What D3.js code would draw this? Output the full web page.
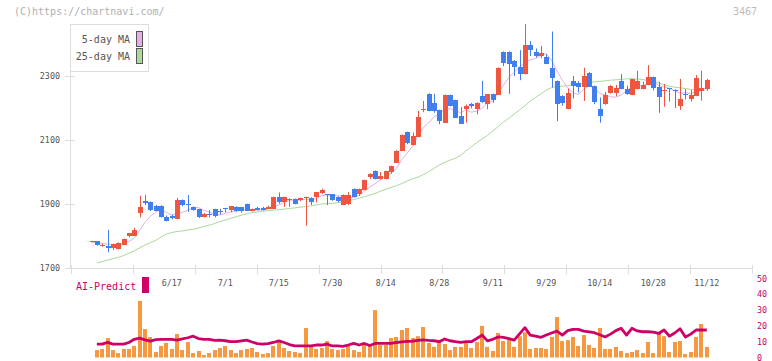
<!DOCTYPE html>
<html><head><meta charset="utf-8">
<script src="https://cdn.jsdelivr.net/npm/d3@7"></script>
<style>
body{margin:0;background:#fff;}
svg{display:block;}
text{font-family:"DejaVu Sans Mono","Liberation Mono",monospace;}
</style>
</head><body>
<svg id="chart" width="772" height="361"></svg>
<script>
const opens = [1783,1783,1770,1769,1761,1760,1773,1798,1801,1873,
1910,1906,1895,1894,1860,1862,1854,1912,1899,1890,
1883,1860,1870,1883,1878,1886,1881,1891,1890,1900,
1880,1887,1887,1885,1885,1923,1906,1912,1916,1912,
1917,1920,1921,1935,1931,1930,1923,1898,1900,1947,
1930,1944,1984,2003,1978,1978,2000,2031,2067,2125,
2084,2110,2194,2244,2217,2194,2154,2241,2225,2176,
2197,2211,2197,2237,2212,2243,2243,2376,2376,2347,
2329,2306,2397,2376,2362,2360,2326,2284,2238,2198,
2284,2277,2267,2310,2269,2198,2212,2247,2247,2284,
2259,2241,2259,2259,2272,2297,2265,2254,2261,2257,
2207,2245,2230,2238,2254,2259];
const highs = [1785,1784,1776,1819,1776,1780,1792,1810,1826,1926,
1928,1908,1897,1896,1864,1867,1919,1914,1928,1892,
1885,1872,1881,1885,1885,1887,1894,1893,1891,1901,
1886,1891,1891,1895,1923,1936,1923,1918,1917,1920,
1923,1921,1937,1948,1931,1931,1924,1930,1937,1949,
1948,1976,1996,2005,2000,2004,2020,2068,2117,2126,
2123,2191,2222,2246,2244,2195,2242,2242,2226,2203,
2211,2216,2218,2285,2243,2245,2327,2377,2377,2350,
2381,2462,2409,2386,2394,2368,2439,2286,2240,2261,
2300,2284,2326,2312,2270,2233,2250,2272,2272,2306,
2270,2291,2316,2282,2334,2298,2282,2275,2262,2258,
2291,2259,2256,2303,2316,2291];
const lows = [1781,1770,1766,1749,1756,1758,1772,1796,1800,1858,
1897,1878,1878,1858,1846,1852,1852,1893,1875,1879,
1856,1858,1858,1858,1867,1874,1874,1876,1873,1878,
1877,1880,1880,1885,1884,1901,1891,1891,1899,1909,
1832,1897,1905,1931,1897,1910,1905,1897,1897,1921,
1925,1943,1978,1977,1976,1977,1995,2030,2066,2087,
2083,2109,2187,2190,2185,2149,2153,2205,2169,2150,
2154,2199,2180,2216,2196,2216,2242,2331,2244,2300,
2287,2305,2362,2357,2355,2337,2264,2159,2207,2196,
2230,2248,2222,2266,2212,2154,2210,2245,2237,2258,
2241,2240,2258,2258,2271,2255,2185,2204,2220,2200,
2194,2227,2220,2237,2223,2254];
const closes = [1783,1772,1772,1764,1775,1778,1791,1808,1819,1892,
1904,1880,1880,1860,1848,1855,1912,1895,1897,1881,
1858,1870,1869,1860,1874,1882,1894,1878,1879,1879,
1885,1882,1882,1891,1922,1906,1922,1916,1900,1918,
1921,1909,1936,1944,1930,1912,1909,1928,1928,1922,
1947,1975,1994,1978,1988,2003,2019,2067,2116,2092,
2112,2172,2196,2191,2191,2159,2241,2206,2170,2151,
2206,2204,2217,2218,2243,2225,2326,2343,2337,2327,
2306,2397,2381,2362,2372,2337,2295,2213,2217,2247,
2267,2264,2300,2267,2220,2176,2241,2270,2262,2258,
2244,2291,2285,2272,2298,2264,2235,2257,2257,2255,
2228,2243,2241,2295,2264,2287];
const ma5 = [1780,1779,1777,1775,1773,1772,1776,1783,1794,1818,
1843,1861,1875,1883,1874,1865,1871,1874,1881,1888,
1889,1880,1875,1868,1866,1871,1876,1878,1881,1882,
1883,1881,1881,1884,1892,1897,1905,1911,1913,1912,
1915,1913,1917,1926,1928,1926,1926,1925,1921,1920,
1927,1940,1953,1963,1976,1988,1996,2011,2039,2059,
2081,2112,2138,2153,2172,2182,2196,2198,2193,2185,
2195,2187,2190,2199,2218,2221,2246,2271,2295,2312,
2328,2342,2350,2355,2364,2370,2349,2316,2287,2262,
2248,2242,2259,2269,2264,2245,2241,2235,2234,2241,
2255,2265,2268,2270,2278,2282,2271,2265,2262,2254,
2246,2248,2245,2252,2254,2266];
const ma25 = [null,1716,1720,1725,1729,1733,1739,1746,1754,1763,
1772,1779,1786,1797,1806,1811,1814,1816,1819,1821,
1825,1830,1834,1839,1845,1850,1855,1860,1865,1869,
1873,1875,1877,1879,1881,1882,1884,1886,1888,1890,
1892,1894,1897,1900,1901,1902,1904,1905,1910,1914,
1918,1923,1928,1933,1940,1946,1952,1957,1964,1972,
1979,1984,1992,2001,2011,2022,2030,2037,2043,2052,
2066,2079,2092,2103,2114,2128,2142,2156,2168,2181,
2194,2207,2222,2233,2244,2256,2264,2267,2268,2270,
2272,2274,2277,2279,2282,2283,2285,2287,2288,2290,
2291,2291,2291,2289,2286,2284,2279,2272,2268,2265,
2263,2261,2258,2257,2256,2256];
const aiBars = [null,4.7,5.4,12.3,4.7,2.8,5.4,5.4,7.3,35.8,
18,13,3.5,7.3,9.2,5.4,14.9,4.7,9.8,2.8,
4.1,1.6,2.8,4.7,6,7.3,4.7,2.8,4.7,5.4,
6,3.5,2.2,2.8,7.3,9.8,6,4.1,3.5,2.8,
18.7,7.9,5.4,6,10.4,5.4,4.7,5.4,7.9,4.7,
3.5,7.9,7.3,30,7.9,7.9,12.3,13,17.4,18.7,
12.3,13.5,19.3,9.2,6.7,9.8,8.5,4.7,6.7,6.7,
9.8,6,9.8,20,6.7,4.1,15.5,10.4,11.6,6.7,
13.5,16,5.4,6,6,5.4,13,25.6,10.4,11,
13,7.3,14.2,7.9,6,18.7,5.4,5.4,6.7,4.1,
2.8,3.5,4.7,2.8,9.8,2.8,15.5,13.5,3.5,9.8,
10.4,2.2,3.5,13,21.2,6.7];
const aiLine = [null,8.5,8.5,9.6,8.5,8.5,8.5,9.5,11.5,12.3,
11.2,10.4,11.3,11.5,11.5,11.5,11,11.8,12.5,13.5,
12,11.5,11.5,10.8,11,10.6,10,10,10.5,11,
9.8,8.8,8.5,8.8,9.5,10.5,9.5,8.2,7.3,7.3,
7.3,7.3,7.9,7.9,8.5,7.3,7.3,7,7.9,8.9,
7.9,8.9,7.6,8.9,8.9,8.9,8.9,9.5,9.9,10.2,
10.3,10.8,11.1,10.8,10.6,10,11.7,10.6,10,9.6,
10,10,12,14.2,10.5,11.5,13,12.7,12,11,
15,18.9,14.2,13.5,12.8,14.2,15.5,16.7,14.2,17,
17.8,17.8,16.7,16.2,15.7,14.4,13,14.8,17,18.5,
14.2,18.5,16.8,16.3,16.3,16,15.2,17.4,13.5,15.5,
18.2,13,14.8,17.4,17.4,17.4];
const dateLabels = ["6/17","7/1","7/15","7/30","8/14","8/28","9/11","9/29","10/14","10/28","11/12"];
const dateLabelIndex = [15,25,35,45,55,65,75,85,95,105,115];
const priceTicks = [1700,1900,2100,2300];
const aiTicks = [0,10,20,30,40,50];
const gridTicks = [0,1,2,3,4,5,6,7,8,9,10,11];

const C = {
  up:"#f05540", down:"#3f7fef", ma5:"#e6aee6", ma25:"#acd89c",
  bar:"#f4993f", ai:"#cc0066", axis:"#dddddd", label:"#555555"
};

const svg = d3.select("#chart");
const n = closes.length;
const x = d3.scaleLinear().domain([0, n - 1]).range([91.5, 706.8]);
const y = d3.scaleLinear().domain([1700, 2300]).range([268, 76]);
const yAi = d3.scaleLinear().domain([0, 50]).range([357.5, 278.5]);
const xGrid = d3.scaleLinear().domain([0, 11]).range([71, 752]);
const idx = d3.range(n);

svg.append("text").attr("x", 14).attr("y", 15).attr("font-size", 10)
  .attr("fill", "#b0b0b0").text("(C)https://chartnavi.com/");
svg.append("text").attr("x", 757).attr("y", 15).attr("font-size", 10)
  .attr("text-anchor", "end").attr("fill", "#bbbbbb").text("3467");

svg.append("line").attr("x1", 70.5).attr("x2", 70.5).attr("y1", 24).attr("y2", 268)
  .attr("stroke", C.axis);
const pt = svg.append("g");
pt.selectAll("line").data(priceTicks).join("line")
  .attr("x1", 65).attr("x2", 75).attr("y1", d => Math.round(y(d)) + 0.5).attr("y2", d => Math.round(y(d)) + 0.5)
  .attr("stroke", C.axis);
pt.selectAll("text").data(priceTicks).join("text")
  .attr("x", 60).attr("y", d => y(d) + 3).attr("text-anchor", "end")
  .attr("font-size", 8.4).attr("fill", C.label).text(d => d);

svg.append("line").attr("x1", 65).attr("x2", 752).attr("y1", 268.5).attr("y2", 268.5).attr("stroke", C.axis);
svg.append("g").selectAll("line").data(gridTicks).join("line")
  .attr("x1", d => Math.round(xGrid(d)) + 0.5).attr("x2", d => Math.round(xGrid(d)) + 0.5)
  .attr("y1", 265).attr("y2", 274).attr("stroke", C.axis);
svg.append("g").selectAll("text").data(dateLabelIndex).join("text")
  .attr("x", d => x(d)).attr("y", 286).attr("text-anchor", "middle")
  .attr("font-size", 8.4).attr("fill", C.label).text((d, i) => dateLabels[i]);

const lineGen = d3.line().defined(d => d[1] != null).x(d => x(d[0])).y(d => y(d[1]));
svg.append("path").datum(idx.map(i => [i, ma25[i]])).attr("d", lineGen)
  .attr("fill", "none").attr("stroke", C.ma25).attr("stroke-width", 1);
svg.append("path").datum(idx.map(i => [i, ma5[i]])).attr("d", lineGen)
  .attr("fill", "none").attr("stroke", C.ma5).attr("stroke-width", 1);

const cg = svg.append("g");
const col = i => closes[i] >= opens[i] ? C.up : C.down;
const cx = i => Math.round(x(i));
cg.selectAll("line").data(idx).join("line")
  .attr("x1", i => cx(i) + 0.5).attr("x2", i => cx(i) + 0.5)
  .attr("y1", i => y(highs[i])).attr("y2", i => y(lows[i]))
  .attr("stroke", col).attr("stroke-width", 1);
cg.selectAll("rect").data(idx).join("rect")
  .attr("x", i => cx(i) - 2).attr("width", 5)
  .attr("y", i => Math.round(y(Math.max(opens[i], closes[i]))))
  .attr("height", i => Math.max(1, Math.round(Math.abs(y(opens[i]) - y(closes[i])))))
  .attr("fill", col);

const lg = svg.append("g");
lg.append("rect").attr("x", 70.5).attr("y", 24.5).attr("width", 78).attr("height", 47)
  .attr("fill", "#fff").attr("stroke", "#dddddd");
const legendItems = [["5-day MA", C.ma5, 43, 31.5], ["25-day MA", C.ma25, 60, 48.5]];
legendItems.forEach(([t, c, ty, ry]) => {
  lg.append("text").attr("x", 130).attr("y", ty).attr("text-anchor", "end")
    .attr("font-size", 10).attr("fill", "#555").text(t);
  lg.append("rect").attr("x", 136.5).attr("y", ry).attr("width", 6).attr("height", 15)
    .attr("fill", c).attr("stroke", "#555");
});

svg.append("text").attr("x", 76).attr("y", 290).attr("font-size", 10)
  .attr("fill", C.ai).text("AI-Predict");
svg.append("rect").attr("x", 142).attr("y", 277).attr("width", 7).attr("height", 16).attr("fill", C.ai);

svg.append("g").selectAll("rect").data(idx.filter(i => aiBars[i] != null)).join("rect")
  .attr("x", i => cx(i) - 2).attr("width", 4)
  .attr("y", i => yAi(aiBars[i])).attr("height", i => yAi(0) - yAi(aiBars[i]))
  .attr("fill", C.bar);

const aiGen = d3.line().defined(d => d[1] != null).x(d => x(d[0])).y(d => yAi(d[1]));
svg.append("path").datum(idx.map(i => [i, aiLine[i]])).attr("d", aiGen)
  .attr("fill", "none").attr("stroke", C.ai).attr("stroke-width", 2.8).attr("stroke-linejoin", "round");

svg.append("g").selectAll("text").data(aiTicks).join("text")
  .attr("x", 757).attr("y", d => yAi(d) + 3).attr("font-size", 8.4)
  .attr("fill", C.ai).text(d => d);
</script>
</body></html>
